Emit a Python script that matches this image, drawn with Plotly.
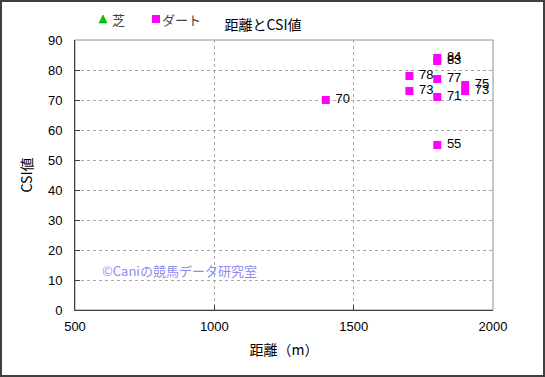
import plotly.graph_objects as go

# Data (dirt races)
dirt_distance = [1400, 1700, 1700, 1800, 1800, 1800, 1800, 1800, 1900, 1900]
dirt_csi = [70, 78, 73, 84, 83, 77, 71, 55, 75, 73]
turf_distance = [None]
turf_csi = [None]

x_ticks = [500, 1000, 1500, 2000]
y_ticks = [0, 10, 20, 30, 40, 50, 60, 70, 80, 90]

FONT = "Liberation Sans, Noto Sans CJK JP, sans-serif"
JFONT = "Noto Sans CJK JP, sans-serif"

fig = go.Figure()
fig.add_trace(go.Scatter(
    x=turf_distance, y=turf_csi, mode="markers", name="芝", showlegend=False,
    marker=dict(symbol="triangle-up", color="#00cc00", size=9),
))
fig.add_trace(go.Scatter(
    x=dirt_distance, y=dirt_csi, mode="markers+text", name="ダート", showlegend=False,
    text=["\u00a0" + str(v) for v in dirt_csi], textposition="middle right",
    textfont=dict(family=FONT, size=13, color="#000000"),
    marker=dict(symbol="square", color="#ff00ff", size=8),
))

L, R, T, B = 75, 52, 40, 67
W, H = 545, 377
pw, ph = W - L - R, H - T - B

def px(xp):
    return (xp - L) / pw

def py(yp):
    return (H - B - yp) / ph

legend_shapes = [
    dict(type="path", xref="paper", yref="paper",
         path=f"M {px(99)} {py(23)} L {px(107)} {py(23)} L {px(103)} {py(15)} Z",
         fillcolor="#00cc00", line=dict(color="#008800", width=0.5)),
    dict(type="rect", xref="paper", yref="paper",
         x0=px(152), x1=px(160), y0=py(23), y1=py(15),
         fillcolor="#ff00ff", line=dict(width=0)),
]

fig.update_layout(
    width=W, height=H,
    margin=dict(l=L, r=R, t=T, b=B, autoexpand=False),
    paper_bgcolor="white", plot_bgcolor="white",
    font=dict(family=FONT, size=13, color="#000000"),
    title=dict(text="距離とCSI値", x=263 / W, xanchor="center", y=1 - 25 / H,
               yanchor="middle", font=dict(family=JFONT, size=14)),
    showlegend=False,
    xaxis=dict(range=[500, 2000], tickvals=x_ticks, showgrid=True,
               gridcolor="#a8a8a8", griddash="dot", gridwidth=1,
               showline=True, linecolor="#404040", linewidth=1,
               ticks="inside", ticklen=5, tickcolor="#404040",
               ticklabelstandoff=4,
               zeroline=False, automargin=False,
               title=dict(text="距離（m）", font=dict(family=JFONT, size=14), standoff=12),
               tickfont=dict(size=13)),
    yaxis=dict(range=[0, 90], tickvals=y_ticks, showgrid=True,
               gridcolor="#a8a8a8", griddash="dot", gridwidth=1,
               showline=True, linecolor="#404040", linewidth=1,
               ticks="inside", ticklen=5, tickcolor="#404040",
               ticklabelstandoff=9,
               zeroline=False, automargin=False,
               title=dict(text="CSI値", font=dict(family=JFONT, size=14), standoff=12),
               tickfont=dict(size=13)),
    shapes=[
        dict(type="rect", xref="paper", yref="paper", x0=0, x1=1, y0=0, y1=1,
             line=dict(color="#909090", width=1), layer="below"),
        dict(type="rect", xref="paper", yref="paper",
             x0=px(1), x1=px(544), y0=py(376), y1=py(1),
             line=dict(color="#404040", width=2)),
    ] + legend_shapes,
    annotations=[
        dict(text="芝", xref="paper", yref="paper", x=px(110), y=py(19),
             xanchor="left", yanchor="middle", showarrow=False,
             font=dict(family=JFONT, size=13, color="#444444")),
        dict(text="ダート", xref="paper", yref="paper", x=px(160), y=py(19),
             xanchor="left", yanchor="middle", showarrow=False,
             font=dict(family=JFONT, size=13, color="#444444")),
        dict(text="©Caniの競馬データ研究室", xref="paper", yref="paper",
             x=px(100), y=py(270), xanchor="left", yanchor="middle",
             showarrow=False, font=dict(family=JFONT, size=13, color="#8c8cf0")),
    ],
)

fig.write_html("out.html", config={"displayModeBar": False},
               post_script="document.body.style.margin='0';")
